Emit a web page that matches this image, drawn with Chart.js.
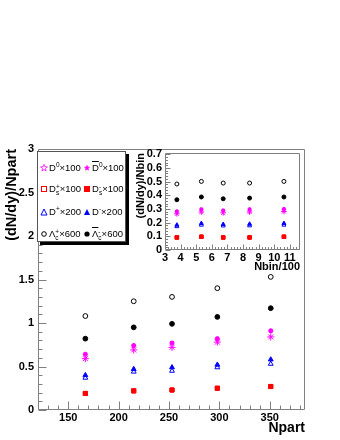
<!DOCTYPE html>
<html>
<head>
<meta charset="utf-8">
<script src="https://cdn.jsdelivr.net/npm/chart.js@4"></script>
<style>
body { margin: 0; background: #fff; }
#wrap { position: relative; width: 340px; height: 440px; font-family: "Liberation Sans", Arial, sans-serif; }
#main { position: absolute; left: 0; top: 0; }
#inset { position: absolute; left: 130px; top: 140px; }
#legend { position: absolute; left: 37px; top: 151px; width: 87px; height: 89px; border: 1px solid #555;
  background: #fff; box-shadow: 3px 3px 0 #000; font-size: 9.5px; color: #000; }
.it { position: absolute; height: 12px; line-height: 12px; white-space: nowrap; }
.it svg { vertical-align: -1px; margin-right: 1px; }
.it sup { font-size: 6.5px; vertical-align: 4px; line-height: 0; }
.ss { display: inline-block; vertical-align: -3px; font-size: 6.5px; line-height: 6px; }
.ss b { display: block; font-weight: normal; }
.ov { text-decoration: overline; }
</style>
</head>
<body>
<div id="wrap">
  <canvas id="main" width="340" height="440"></canvas>
  <canvas id="inset" width="180" height="135"></canvas>
  <div id="legend">
    <div class="it" style="left:2px;top:10px"><svg width="8" height="8"><polygon id="s1" fill="none" stroke="#ff00ff" stroke-width="0.8"/></svg>D<sup>0</sup>×100</div>
    <div class="it" style="left:45px;top:10px"><svg width="8" height="8"><polygon id="s2" fill="#ff00ff" stroke="#ff00ff" stroke-width="0.5"/></svg><span class="ov">D</span><sup>0</sup>×100</div>
    <div class="it" style="left:2px;top:31px"><svg width="8" height="8"><rect x="1.5" y="1.5" width="5" height="5" fill="none" stroke="#ff0000"/></svg>D<span class="ss"><b>+</b><b>s</b></span>×100</div>
    <div class="it" style="left:45px;top:31px"><svg width="8" height="8"><rect x="1" y="1" width="6" height="6" fill="#ff0000"/></svg>D<span class="ss"><b>-</b><b>s</b></span>×100</div>
    <div class="it" style="left:2px;top:54px"><svg width="8" height="8"><polygon points="4,1 7,7 1,7" fill="none" stroke="#0000ff"/></svg>D<sup>+</sup>×200</div>
    <div class="it" style="left:45px;top:54px"><svg width="8" height="8"><polygon points="4,1 7,7 1,7" fill="#0000ff"/></svg>D<sup>-</sup>×200</div>
    <div class="it" style="left:2px;top:76px"><svg width="8" height="8"><circle cx="4" cy="4" r="2.3" fill="none" stroke="#000"/></svg>Λ<span class="ss"><b>+</b><b>c</b></span>×600</div>
    <div class="it" style="left:45px;top:76px"><svg width="8" height="8"><circle cx="4" cy="4" r="2.6" fill="#000"/></svg><span class="ov">Λ</span><span class="ss"><b>-</b><b>c</b></span>×600</div>
  </div>
</div>
<script>
// ---- main plot: (dN/dy)/Npart vs Npart ----
const npart = [167, 215, 253, 298, 351];
const d0 = [0.59, 0.69, 0.72, 0.78, 0.84];
const d0bar = [0.64, 0.74, 0.77, 0.82, 0.91];
const dsPlus = [0.19, 0.22, 0.23, 0.25, 0.27];
const dsMinus = [0.19, 0.22, 0.23, 0.25, 0.27];
const dPlus = [0.37, 0.44, 0.45, 0.49, 0.53];
const dMinus = [0.40, 0.47, 0.49, 0.52, 0.58];
const lcPlus = [1.08, 1.25, 1.30, 1.40, 1.53];
const lcMinus = [0.82, 0.95, 0.99, 1.07, 1.17];
const npartTicks = [150, 200, 250, 300, 350];
const partTicks = [0, 0.5, 1, 1.5, 2, 2.5, 3];

// ---- inset: (dN/dy)/Nbin vs Nbin/100 ----
const nbin = [3.76, 5.33, 6.73, 8.42, 10.62];
const d0Bin = [0.265, 0.278, 0.272, 0.278, 0.282];
const d0barBin = [0.283, 0.298, 0.290, 0.298, 0.300];
const dsPlusBin = [0.092, 0.097, 0.092, 0.092, 0.097];
const dsMinusBin = [0.092, 0.097, 0.092, 0.092, 0.097];
const dPlusBin = [0.172, 0.183, 0.177, 0.178, 0.183];
const dMinusBin = [0.183, 0.195, 0.188, 0.190, 0.195];
const lcPlusBin = [0.483, 0.502, 0.490, 0.490, 0.502];
const lcMinusBin = [0.368, 0.388, 0.375, 0.380, 0.388];
const nbinTicks = [3, 4, 5, 6, 7, 8, 9, 10, 11];
const binTicks = [0, 0.1, 0.2, 0.3, 0.4, 0.5, 0.6, 0.7];

const MAG = '#ff00ff', RED = '#ff0000', BLUE = '#0000ff', BLK = '#000000';
const FONT = '"Liberation Sans", Arial, sans-serif';
const NOGRID = {display: false, drawTicks: false, tickLength: 0};

// legend stars
function starPts(r1, r2) {
  let p = [];
  for (let i = 0; i < 10; i++) {
    let r = i % 2 ? r2 : r1, a = -Math.PI / 2 + i * Math.PI / 5;
    p.push((4 + r * Math.cos(a)).toFixed(2) + ',' + (4 + r * Math.sin(a)).toFixed(2));
  }
  return p.join(' ');
}
document.getElementById('s1').setAttribute('points', starPts(3.6, 1.5));
document.getElementById('s2').setAttribute('points', starPts(2.8, 1.2));

function pts(xs, ys) {
  return xs.map((x, i) => ({x: x, y: ys[i]}));
}

function mk(xs, ys, style, color, filled, r) {
  return {
    data: pts(xs, ys),
    pointStyle: style,
    pointRadius: r,
    pointHoverRadius: r,
    pointBorderWidth: style == 'star' ? (filled ? 1.5 : 1) : 1,
    pointBorderColor: color,
    pointBackgroundColor: filled ? color : '#fff',
    showLine: false
  };
}

// ROOT-like frame with ticks pointing inwards
const rootFrame = {
  id: 'rootFrame',
  afterDraw(chart, args, o) {
    const {ctx, chartArea: a} = chart;
    const xs = chart.scales.x, ys = chart.scales.y;
    const L = Math.round(a.left) + 0.5, R = Math.round(a.right) - 0.5;
    const T = Math.round(a.top) + 0.5, B = Math.round(a.bottom) - 0.5;
    const steps = (min, max, st) => {
      let out = [];
      for (let i = Math.ceil(min / st - 1e-9); i <= Math.floor(max / st + 1e-9); i++) out.push(i * st);
      return out;
    };
    const isMajor = (v, m) => Math.abs(v / m - Math.round(v / m)) < 1e-6;
    ctx.save();
    ctx.strokeStyle = o.color;
    ctx.lineWidth = 1;
    ctx.beginPath();
    ctx.rect(L, T, R - L, B - T);
    steps(xs.min, xs.max, o.xMinor).forEach(v => {
      const px = Math.round(xs.getPixelForValue(v)) + 0.5;
      ctx.moveTo(px, B);
      ctx.lineTo(px, B - (isMajor(v, o.xMajor) ? o.major : o.minor));
    });
    steps(ys.min, ys.max, o.yMinor).forEach(v => {
      const py = Math.round(ys.getPixelForValue(v)) + 0.5;
      ctx.moveTo(L, py);
      ctx.lineTo(L + (isMajor(v, o.yMajor) ? o.major : o.minor), py);
    });
    ctx.stroke();
    ctx.restore();
  }
};

new Chart(document.getElementById('main'), {
  type: 'scatter',
  data: {
    datasets: [
      mk(npart, dsMinus, 'rect', RED, true, 2.9),
      mk(npart, dsPlus, 'rect', RED, false, 2.9),
      mk(npart, dMinus, 'triangle', BLUE, true, 2.8),
      mk(npart, dPlus, 'triangle', BLUE, false, 2.8),
      mk(npart, d0bar, 'star', MAG, true, 2.5),
      mk(npart, d0, 'star', MAG, false, 3.5),
      mk(npart, lcMinus, 'circle', BLK, true, 2.4),
      mk(npart, lcPlus, 'circle', BLK, false, 2.4)
    ]
  },
  options: {
    responsive: false,
    animation: false,
    events: [],
    layout: {padding: {top: 149, right: 35, bottom: 0, left: 0}},
    plugins: {
      legend: {display: false},
      tooltip: {enabled: false},
      rootFrame: {color: '#808080', xMinor: 10, xMajor: 50, yMinor: 0.1, yMajor: 0.5, major: 8, minor: 4}
    },
    scales: {
      x: {
        type: 'linear', min: 120, max: 385,
        grid: NOGRID, border: {display: false},
        afterBuildTicks: s => { s.ticks = npartTicks.map(v => ({value: v})); },
        afterFit: s => { s.height = 30; },
        ticks: {color: '#000', padding: 1, maxRotation: 0, autoSkip: false,
          font: {family: FONT, size: 11, weight: 'bold'}, callback: v => String(v)},
        title: {display: true, text: 'Npart', align: 'end', color: '#000',
          font: {family: FONT, size: 14, weight: 'bold'}, padding: {top: 0, bottom: 3.6}}
      },
      y: {
        type: 'linear', min: 0, max: 3,
        grid: NOGRID, border: {display: false},
        afterBuildTicks: s => { s.ticks = partTicks.map(v => ({value: v})); },
        afterFit: s => { s.width = 38; },
        ticks: {color: '#000', padding: 4, autoSkip: false,
          font: {family: FONT, size: 11, weight: 'bold'}, callback: v => String(v)},
        title: {display: true, text: '(dN/dy)/Npart', align: 'end', color: '#000',
          font: {family: FONT, size: 14.5, weight: 'bold'}, padding: {top: 3, bottom: 0}}
      }
    }
  },
  plugins: [rootFrame]
});

new Chart(document.getElementById('inset'), {
  type: 'scatter',
  data: {
    datasets: [
      mk(nbin, dsMinusBin, 'rect', RED, true, 2.5),
      mk(nbin, dsPlusBin, 'rect', RED, false, 2.5),
      mk(nbin, dMinusBin, 'triangle', BLUE, true, 2.3),
      mk(nbin, dPlusBin, 'triangle', BLUE, false, 2.3),
      mk(nbin, d0barBin, 'star', MAG, true, 2),
      mk(nbin, d0Bin, 'star', MAG, false, 2.8),
      mk(nbin, lcMinusBin, 'circle', BLK, true, 2),
      mk(nbin, lcPlusBin, 'circle', BLK, false, 2)
    ]
  },
  options: {
    responsive: false,
    animation: false,
    events: [],
    layout: {padding: {top: 13, right: 10, bottom: 0, left: 0}},
    plugins: {
      legend: {display: false},
      tooltip: {enabled: false},
      rootFrame: {color: '#808080', xMinor: 0.2, xMajor: 1, yMinor: 0.02, yMajor: 0.1, major: 5, minor: 2.5}
    },
    scales: {
      x: {
        type: 'linear', min: 3, max: 11.65,
        grid: NOGRID, border: {display: false},
        afterBuildTicks: s => { s.ticks = nbinTicks.map(v => ({value: v})); },
        afterFit: s => { s.height = 25; },
        ticks: {color: '#000', padding: 1, maxRotation: 0, autoSkip: false,
          font: {family: FONT, size: 11, weight: 'bold'}, callback: v => String(v)},
        title: {display: true, text: 'Nbin/100', align: 'end', color: '#000',
          font: {family: FONT, size: 11, weight: 'bold'}, padding: {top: 0, bottom: 1.7}}
      },
      y: {
        type: 'linear', min: 0, max: 0.71,
        grid: NOGRID, border: {display: false},
        afterBuildTicks: s => { s.ticks = binTicks.map(v => ({value: v})); },
        afterFit: s => { s.width = 35; },
        ticks: {color: '#000', padding: 3, autoSkip: false,
          font: {family: FONT, size: 11, weight: 'bold'}, callback: v => String(v)},
        title: {display: true, text: '(dN/dy)/Nbin', align: 'end', color: '#000',
          font: {family: FONT, size: 11, weight: 'bold'}, padding: {top: 4, bottom: 0}}
      }
    }
  },
  plugins: [rootFrame]
});
</script>
</body>
</html>
